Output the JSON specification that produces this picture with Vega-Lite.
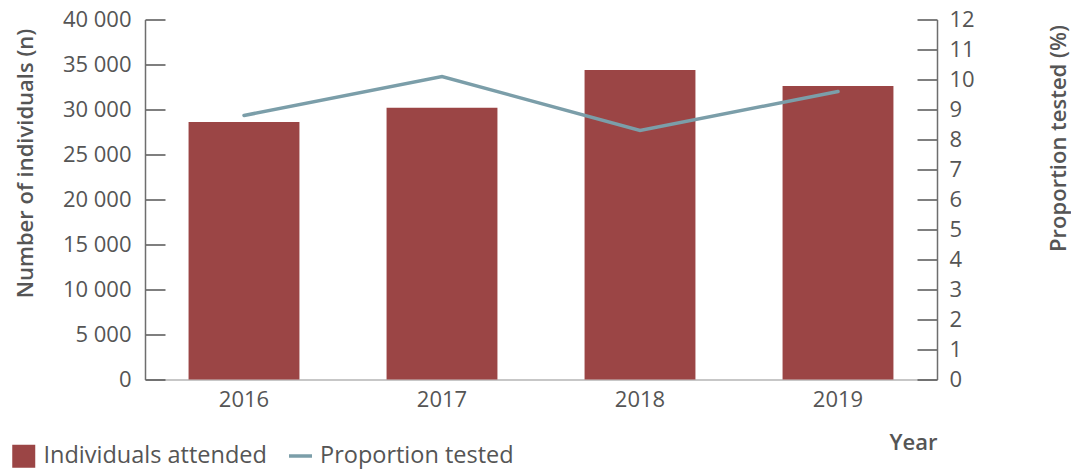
{
  "$schema": "https://vega.github.io/schema/vega-lite/v6.json",
  "width": 792,
  "height": 360,
  "autosize": {"type": "none"},
  "padding": {"left": 145, "top": 19.5, "right": 134, "bottom": 89.5},
  "config": {
    "view": {"stroke": null},
    "font": "Open Sans",
    "axis": {
      "grid": false,
      "labelColor": "#555555",
      "titleColor": "#555555",
      "labelFontSize": 22,
      "titleFontSize": 22,
      "titleFontWeight": 600,
      "domainColor": "#6e6e6e",
      "tickColor": "#555555",
      "domainWidth": 1.5,
      "tickWidth": 1.5
    },
    "legend": {"labelColor": "#555555", "labelFontSize": 23.5, "labelFont": "Open Sans", "labelLimit": 0}
  },
  "data": {
    "values": [
      {"year": "2016", "attended": 28600, "proportion": 8.8},
      {"year": "2017", "attended": 30200, "proportion": 10.1},
      {"year": "2018", "attended": 34400, "proportion": 8.3},
      {"year": "2019", "attended": 32600, "proportion": 9.6}
    ]
  },
  "encoding": {
    "x": {
      "field": "year",
      "type": "ordinal",
      "scale": {"paddingInner": 0.44, "paddingOuter": 0.22},
      "axis": {
        "title": "Year",
        "labelAngle": 0,
        "ticks": false,
        "labelPadding": 10,
        "labelFontSize": 22,
        "domainColor": "#b5b5b5",
        "titleAnchor": "end",
        "titleAlign": "right",
        "titlePadding": 22
      }
    }
  },
  "layer": [
    {
      "mark": {"type": "bar"},
      "encoding": {
        "y": {
          "field": "attended",
          "type": "quantitative",
          "scale": {"domain": [0, 40000], "nice": false},
          "axis": {
            "orient": "left",
            "title": "Number of individuals (n)",
            "values": [0, 5000, 10000, 15000, 20000, 25000, 30000, 35000, 40000],
            "labelExpr": "replace(format(datum.value, ','), ',', ' ')",
            "tickSize": -20,
            "labelPadding": 34,
            "titleAngle": -90,
            "titleX": -120,
            "titleY": 143.5,
            "titleAlign": "center",
            "titleBaseline": "middle"
          }
        },
        "fill": {
          "datum": "Individuals attended",
          "scale": {"range": ["#9b4545"]},
          "legend": {
            "orient": "none",
            "legendX": -133,
            "legendY": 425,
            "title": null,
            "symbolType": "square",
            "symbolSize": 529,
            "symbolStrokeWidth": 0,
            "labelOffset": 8,
            "labelLimit": 0
          }
        }
      }
    },
    {
      "mark": {"type": "line", "strokeWidth": 3.5, "strokeCap": "round"},
      "encoding": {
        "y": {
          "field": "proportion",
          "type": "quantitative",
          "scale": {"domain": [0, 12], "nice": false},
          "axis": {
            "orient": "right",
            "title": "Proportion tested (%)",
            "values": [0, 1, 2, 3, 4, 5, 6, 7, 8, 9, 10, 11, 12],
            "tickSize": -20,
            "labelPadding": 32,
            "titleAngle": -90,
            "titleX": 121,
            "titleY": 118.5,
            "titleAlign": "center",
            "titleBaseline": "middle"
          }
        },
        "stroke": {
          "datum": "Proportion tested",
          "scale": {"range": ["#7b9ea9"]},
          "legend": {
            "orient": "none",
            "legendX": 142,
            "legendY": 423,
            "title": null,
            "symbolType": "stroke",
            "symbolSize": 529,
            "symbolStrokeWidth": 3.5,
            "labelOffset": 6,
            "labelLimit": 0
          }
        }
      }
    }
  ],
  "resolve": {"scale": {"y": "independent"}}
}
